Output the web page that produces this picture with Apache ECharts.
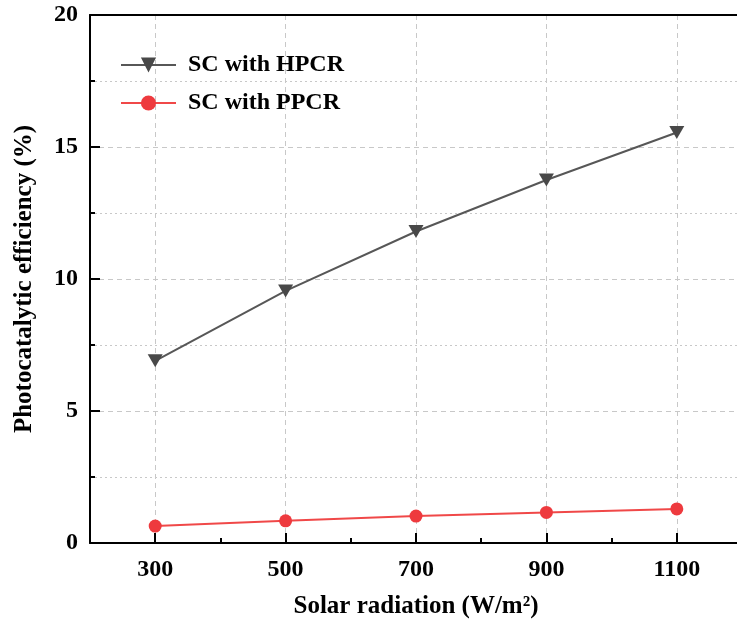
<!DOCTYPE html>
<html><head><meta charset="utf-8">
<script src="https://cdn.jsdelivr.net/npm/echarts@6/dist/echarts.min.js"></script>
<style>html,body{margin:0;padding:0;background:#fff;overflow:hidden}#c{width:742px;height:631px}</style>
</head><body><div id="c"></div>
<script>
var categories = ['300', '500', '700', '900', '1100'];
var hpcr = [6.9, 9.55, 11.8, 13.75, 15.55];
var ppcr = [0.64, 0.84, 1.02, 1.16, 1.29];
var seriesNames = ['SC with HPCR', 'SC with PPCR'];
var yTicks = {min: 0, max: 20, interval: 5};

var font = 'Liberation Serif';
var chart = echarts.init(document.getElementById('c'));
chart.setOption({
  animation: false,
  backgroundColor: '#fff',
  grid: {left: 90, top: 15, right: 0, bottom: 88, containLabel: false},
  legend: {
    orient: 'vertical', left: 120, top: 53, padding: 0, itemWidth: 55, itemHeight: 19, itemGap: 14,
    textStyle: {fontFamily: font, fontWeight: 'bold', fontSize: 24, lineHeight: 20, color: '#000', padding: [0, 0, 0, 7]},
    data: seriesNames
  },
  xAxis: [{
    type: 'category', data: categories, boundaryGap: true,
    name: 'Solar radiation (W/m\u00B2)', nameLocation: 'middle', nameGap: 51,
    nameTextStyle: {fontFamily: font, fontWeight: 'bold', fontSize: 25, color: '#000'},
    axisLine: {show: true, lineStyle: {color: '#000', width: 2}},
    axisTick: {show: true, alignWithLabel: true, inside: true, length: 10, lineStyle: {color: '#000', width: 2}},
    axisLabel: {fontFamily: font, fontWeight: 'bold', fontSize: 24, color: '#000', margin: 15},
    splitLine: {show: true, alignWithLabel: true, lineStyle: {color: '#c8c8c8', type: [5, 4], width: 1}}
  }, {
    type: 'category', data: categories, boundaryGap: true, position: 'bottom',
    axisLine: {show: false},
    axisTick: {show: true, inside: true, length: 5, lineStyle: {color: '#000', width: 2}},
    axisLabel: {show: false}, splitLine: {show: false}
  }, {
    type: 'category', data: categories, boundaryGap: true, position: 'top',
    axisLine: {show: true, lineStyle: {color: '#000', width: 2}},
    axisTick: {show: false}, axisLabel: {show: false}, splitLine: {show: false}
  }],
  yAxis: {
    type: 'value', min: yTicks.min, max: yTicks.max, interval: yTicks.interval,
    name: 'Photocatalytic efficiency (%)', nameLocation: 'middle', nameGap: 53,
    nameTextStyle: {fontFamily: font, fontWeight: 'bold', fontSize: 25, color: '#000'},
    axisLine: {show: true, lineStyle: {color: '#000', width: 2}},
    axisTick: {show: true, inside: true, length: 10, lineStyle: {color: '#000', width: 2}},
    minorTick: {show: true, splitNumber: 2, length: 5, lineStyle: {color: '#000', width: 2}},
    axisLabel: {fontFamily: font, fontWeight: 'bold', fontSize: 24, color: '#000', margin: 12},
    splitLine: {show: true, lineStyle: {color: '#c8c8c8', type: [5, 4], width: 1}},
    minorSplitLine: {show: true, lineStyle: {color: '#c8c8c8', type: [2, 3], width: 1}}
  },
  series: [{
    name: seriesNames[0], type: 'line', data: hpcr,
    symbol: 'path://M0,0 L10,0 L5,9 Z', symbolSize: [15, 13],
    itemStyle: {color: '#484848'}, lineStyle: {color: '#575757', width: 2}
  }, {
    name: seriesNames[1], type: 'line', data: ppcr,
    symbol: 'circle', symbolSize: 13,
    itemStyle: {color: '#ee3a3e'}, lineStyle: {color: '#f04848', width: 2}
  }]
});
</script></body></html>
